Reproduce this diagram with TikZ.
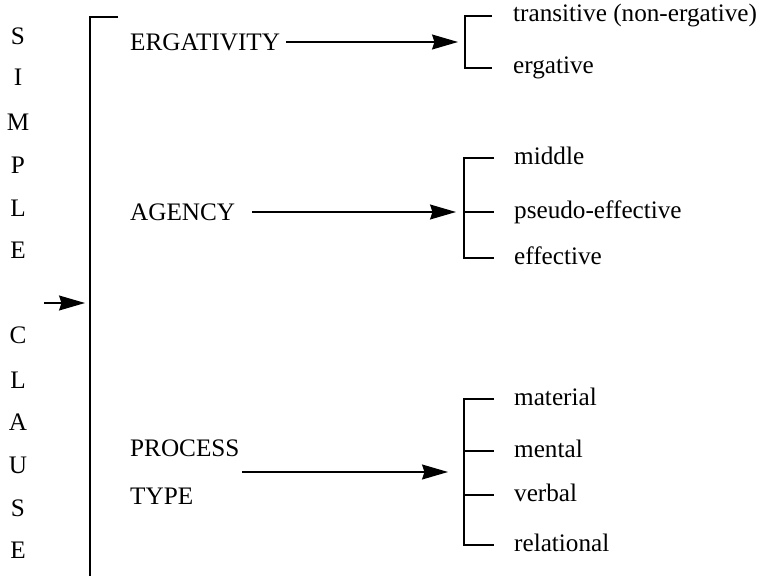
\documentclass[tikz,border=0pt]{standalone}
\usepackage{fontspec}
\setmainfont{Liberation Serif}
\usetikzlibrary{arrows.meta}
\begin{document}
\begin{tikzpicture}[x=1pt,y=-1pt,
  txt/.style={anchor=base west,inner sep=0pt,font=\fontsize{25.2}{28}\selectfont},
  letter/.style={anchor=base,inner sep=0pt,font=\fontsize{25.2}{28}\selectfont},
  rule/.style={line width=1.3pt},
  feed/.style={rule,-{Stealth[length=26pt,width=15pt,inset=2.5pt]}}]
\useasboundingbox (0,0) rectangle (761,578);

% vertical label of the whole system
\foreach \ch/\yy [count=\i] in {S/37,I/77,M/122,P/165,L/208,E/250,C/335,L/380,A/422,U/465,S/508,E/550}
  \node[letter] (ltr\i) at (18,\yy+8) {\ch};

% main bracket with its entry arrow
\coordinate (mainTip) at (118,17);
\coordinate (mainTop) at (90,17);
\coordinate (mainBot) at (90,576);
\coordinate (entryS) at (44,303);
\coordinate (entryE) at (85,303);
\draw[rule] (mainTip) -- (mainTop) -- (mainBot);
\draw[feed] (entryS) -- (entryE);

% system names
\node[txt] (erg) at (130,50.5) {ERGATIVITY};
\node[txt] (agn) at (130,220) {AGENCY};
\node[txt] (proc) at (130,456) {PROCESS};
\node[txt] (ptype) at (130,504) {TYPE};

% ERGATIVITY
\coordinate (ergS) at (286,42);
\coordinate (ergE) at (458,42);
\draw[feed] (ergS) -- (ergE);
\coordinate (e1) at (465,16);
\coordinate (e2) at (465,68);
\draw[rule] (492,16) -- (e1) -- (e2) -- (492,68);
\node[txt] (o1) at (513,22) {transitive (non-ergative)};
\node[txt] (o2) at (513,74) {ergative};

% AGENCY
\coordinate (agnS) at (252,212);
\coordinate (agnE) at (456,212);
\draw[feed] (agnS) -- (agnE);
\coordinate (a1) at (464,158);
\coordinate (a3) at (464,258);
\draw[rule] (494,158) -- (a1) -- (a3) -- (494,258);
\draw[rule] (464,212) -- (494,212);
\node[txt] (o3) at (514,164) {middle};
\node[txt] (o4) at (514,218) {pseudo-effective};
\node[txt] (o5) at (514,264) {effective};

% PROCESS TYPE
\coordinate (procS) at (242,472);
\coordinate (procE) at (448,472);
\draw[feed] (procS) -- (procE);
\coordinate (p1) at (464,399);
\coordinate (p4) at (464,545);
\draw[rule] (494,399) -- (p1) -- (p4) -- (494,545);
\draw[rule] (464,451) -- (494,451);
\draw[rule] (464,495) -- (494,495);
\node[txt] (o6) at (514,405) {material};
\node[txt] (o7) at (514,457) {mental};
\node[txt] (o8) at (514,501) {verbal};
\node[txt] (o9) at (514,551) {relational};
\end{tikzpicture}
\end{document}
